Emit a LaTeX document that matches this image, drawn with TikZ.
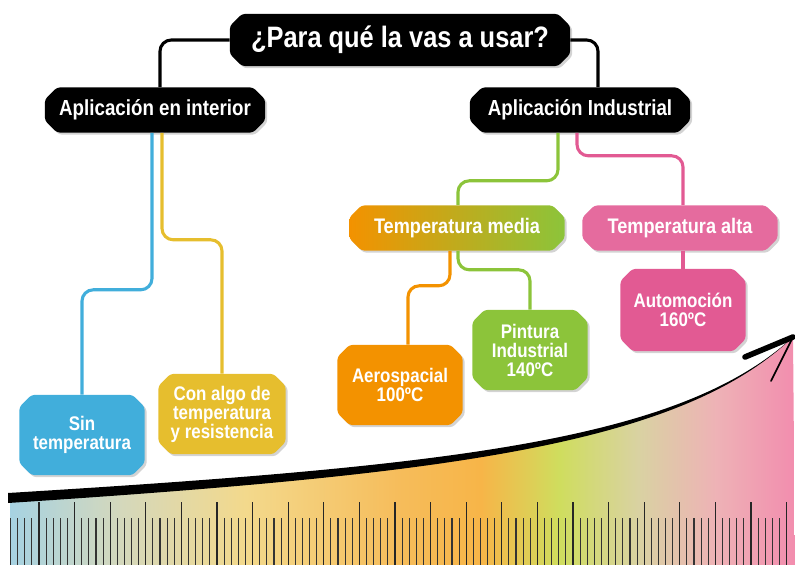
\documentclass[tikz,border=0pt]{standalone}
\usepackage{fontspec}
\setmainfont[FakeStretch=0.86]{Liberation Sans}
\usetikzlibrary{shapes.misc,shadows}
\definecolor{cblue}{HTML}{41AEDB}
\definecolor{cyellow}{HTML}{E6BE2E}
\definecolor{corange}{HTML}{F39200}
\definecolor{cgreen}{HTML}{8CC43A}
\definecolor{cpink}{HTML}{E25A93}
\definecolor{rb0}{HTML}{A6D2E2}
\definecolor{rb1}{HTML}{D4D8BC}
\definecolor{rb2}{HTML}{F3D98C}
\definecolor{rb3}{HTML}{F6BC5A}
\definecolor{rb4}{HTML}{F7B548}
\definecolor{rb5}{HTML}{CFDD5E}
\definecolor{rb6}{HTML}{D9D2A2}
\definecolor{rb7}{HTML}{EEB2B6}
\definecolor{rb8}{HTML}{F28DAE}
\pgfdeclarehorizontalshading{rulershade}{100bp}{color(0bp)=(rb0); color(25bp)=(rb0);
  color(32bp)=(rb1); color(40bp)=(rb2); color(50bp)=(rb3); color(55bp)=(rb4);
  color(60bp)=(rb5); color(65bp)=(rb6); color(70bp)=(rb7); color(75bp)=(rb8); color(100bp)=(rb8)}
\tikzset{
  box/.style={chamfered rectangle, chamfered rectangle xsep=5pt, rounded corners=2pt,
    text=white, align=center, inner sep=0pt,
    drop shadow={opacity=0.35, shadow xshift=1.5pt, shadow yshift=-1.5pt}},
  headbox/.style={box, fill=black, minimum width=5.5cm, minimum height=1.125cm,
    font=\bfseries\fontsize{15.5}{16}\selectfont},
  tempbox/.style={box, minimum height=1.125cm, font=\bfseries\fontsize{15}{16}\selectfont},
  leafbox/.style={box, minimum width=3.125cm, minimum height=2cm,
    font=\bfseries\fontsize{14}{13.5}\selectfont},
  wire/.style={line width=2.2pt, rounded corners=8pt},
  majortick/.style={line width=0.9pt, black!85},
  minortick/.style={line width=0.8pt, black!80}
}
\begin{document}
\begin{tikzpicture}[x=0.025cm,y=-0.025cm]
  \useasboundingbox (0,0) rectangle (795,565);
  \coordinate (tip) at (793,337);
  \shade[shading=rulershade] (10,500) .. controls (450,472) and (680,444) .. (tip)
    -- (795,565) -- (10,565) -- cycle;
  \foreach \k in {0,...,21}
    \draw[majortick] ({39+35.6*\k},502) -- ++(0,63);
  \foreach \k in {-1,...,20}
    \foreach \m in {1,...,4}
      \draw[minortick] ({39+35.6*\k+7.12*\m},518) -- ++(0,47);
  \fill (8,493) .. controls (450,466) and (680,441) .. (tip)
    .. controls (680,445) and (450,474) .. (8,503) -- cycle;
  \draw[line width=4pt, line cap=round] (tip) -- (745,357);
  \draw[line width=1.2pt, line cap=round] (tip) -- (771,381);

  \node[box, fill=black, minimum width=8.5cm, minimum height=1.3cm,
    font=\bfseries\fontsize{21}{24}\selectfont] (title) at (400,40) {¿Para qué la vas a usar?};
  \node[headbox] (interior) at (155,110) {Aplicación en interior};
  \node[headbox] (industrial) at (580,110) {Aplicación Industrial};
  \node[tempbox, minimum width=5.375cm, left color=corange, right color=cgreen] (media) at (457,228) {Temperatura media};
  \node[tempbox, minimum width=4.875cm, fill=cpink!90] (alta) at (680,228) {Temperatura alta};
  \node[leafbox, fill=cpink, minimum height=2.05cm] (auto) at (683,310) {Automoción\\160ºC};
  \node[leafbox, fill=cgreen, minimum width=2.875cm] (pintura) at (530,350) {Pintura\\Industrial\\140ºC};
  \node[leafbox, fill=corange] (aero) at (400,385) {Aerospacial\\100ºC};
  \node[leafbox, fill=cyellow, minimum width=3.175cm] (conalgo) at (222,414) {Con algo de\\temperatura\\y resistencia};
  \node[leafbox, fill=cblue] (sin) at (82,435) {Sin\\temperatura};

  \draw[wire] (title.west) -| ([xshift=0.125cm]interior.north);
  \draw[wire] (title.east) -| ([xshift=0.45cm]industrial.north);
  \draw[wire, cblue] ([xshift=-0.075cm]interior.south) -- ++(0,157) -| (sin.north);
  \draw[wire, cyellow] ([xshift=0.175cm]interior.south) -- ++(0,107) -| (conalgo.north);
  \draw[wire, cgreen] ([xshift=-0.55cm]industrial.south) -- ++(0,48) -| ([xshift=0.025cm]media.north);
  \draw[wire, cpink] ([xshift=-0.075cm]industrial.south) -- ++(0,23) -| ([xshift=0.075cm]alta.north);
  \draw[wire, corange] ([xshift=-0.175cm]media.south) -- ++(0,35) -| ([xshift=0.2cm]aero.north);
  \draw[wire, cgreen] ([xshift=0.025cm]media.south) -- ++(0,19) -| (pintura.north);
  \draw[wire, cpink] (alta.south -| auto.north) -- (auto.north);
\end{tikzpicture}
\end{document}
